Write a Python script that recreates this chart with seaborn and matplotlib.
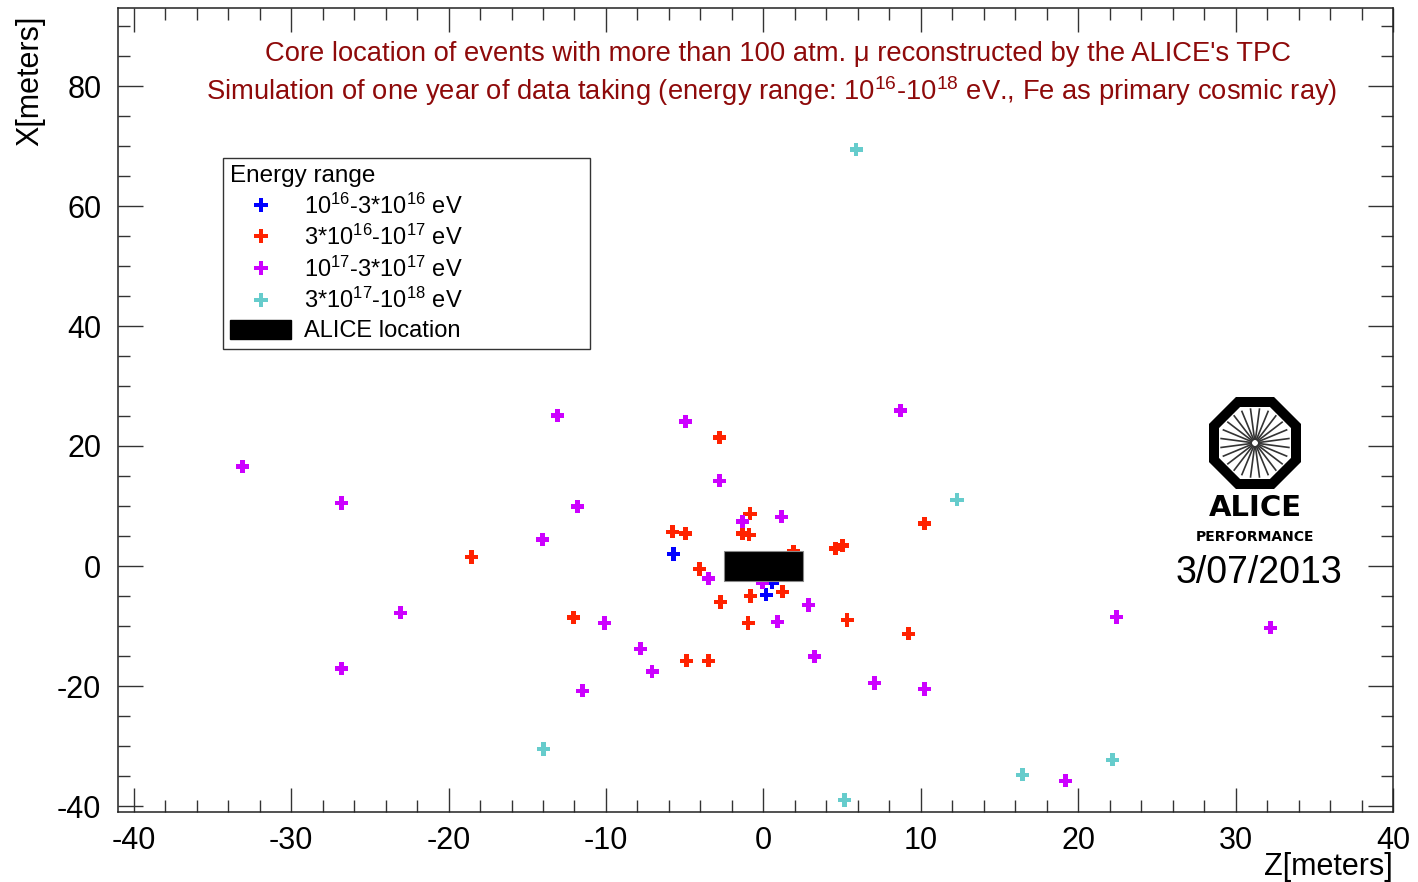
"""Core location of events seen by the ALICE TPC (ROOT-style scatter)."""

import matplotlib.pyplot as plt
import numpy as np
import pandas as pd
import seaborn as sns
from matplotlib.patches import Patch, Rectangle, RegularPolygon
from matplotlib.ticker import MultipleLocator

ENERGY_LABELS = [
    "10$^{16}$-3*10$^{16}$ eV",
    "3*10$^{16}$-10$^{17}$ eV",
    "10$^{17}$-3*10$^{17}$ eV",
    "3*10$^{17}$-10$^{18}$ eV",
]
ENERGY_COLORS = ["#0000ff", "#ff2200", "#cc00ff", "#66cccc"]

# Z (horizontal) and X (vertical) core positions in meters, per energy bin
Z_BIN1 = [-5.7, 0.56, 0.18]
X_BIN1 = [2.0, -2.8, -4.8]

Z_BIN2 = [-18.55, -12.06, -5.78, -4.95, -4.89, -3.49, -4.06, -2.79, -2.73, -1.33, -0.90,
          -0.85, -0.83, -0.96, 1.21, 1.91, 4.58, 5.02, 5.33, 9.21, 10.23]
X_BIN2 = [1.5, -8.6, 5.7, 5.4, -15.8, -15.8, -0.5, 21.4, -6.0, 5.4, 5.2,
          8.7, -5.0, -9.5, -4.3, 2.4, 2.9, 3.4, -9.0, -11.3, 7.1]

Z_BIN3 = [-33.1, -26.8, -26.8, -23.06, -13.08, -14.03, -11.81, -10.1, -11.5, -7.8, -7.06,
          -4.95, -2.79, -3.49, -1.33, 1.15, -0.06, 0.89, 2.86, 3.24, 7.06, 8.71, 10.23,
          22.43, 32.22, 19.19]
X_BIN3 = [16.6, 10.5, -17.1, -7.8, 25.1, 4.4, 9.9, -9.5, -20.8, -13.8, -17.6,
          24.1, 14.2, -2.1, 7.4, 8.2, -2.8, -9.3, -6.5, -15.1, -19.5, 25.9, -20.5,
          -8.5, -10.3, -35.8]

Z_BIN4 = [5.9, 12.3, -13.97, 16.46, 22.18, 5.15]
X_BIN4 = [69.4, 11.05, -30.5, -34.8, -32.3, -39.0]

ALICE_Z = (-2.5, 2.5)
ALICE_X = (-2.5, 2.5)

TITLE_1 = "Core location of events with more than 100 atm. \u03bc reconstructed by the ALICE's TPC"
TITLE_2 = ("Simulation of one year of data taking (energy range: 10$^{16}$-10$^{18}$ eV., "
           "Fe as primary cosmic ray)")
TITLE_COLOR = "#8e0a0a"


def build_frame() -> pd.DataFrame:
    parts = []
    for label, zs, xs in zip(ENERGY_LABELS,
                             [Z_BIN1, Z_BIN2, Z_BIN3, Z_BIN4],
                             [X_BIN1, X_BIN2, X_BIN3, X_BIN4]):
        parts.append(pd.DataFrame({"z": zs, "x": xs, "energy": label}))
    return pd.concat(parts, ignore_index=True)


def draw_logo(fig) -> None:
    W, H = 1418, 882
    cx, cy, half = 1255, 443, 60
    lax = fig.add_axes([(cx - half) / W, 1 - (cy + half) / H, 2 * half / W, 2 * half / H])
    lax.set_xlim(-half, half)
    lax.set_ylim(-half, half)
    lax.set_aspect("equal")
    lax.axis("off")
    oct_r = 41 / np.cos(np.pi / 8)
    lax.add_patch(RegularPolygon((0, 0), numVertices=8, radius=oct_r, orientation=np.pi / 8,
                                 fill=False, edgecolor="black", lw=7.2, joinstyle="miter"))
    for ang in np.arange(0, 360, 15) + 7.5:
        a = np.deg2rad(ang)
        lax.plot([3 * np.cos(a), 35 * np.cos(a)], [3 * np.sin(a), 35 * np.sin(a)],
                 color="#333333", lw=1.2, solid_capstyle="butt")


def main() -> None:
    sns.set_theme(style="white")
    plt.rcParams["font.family"] = ["Liberation Sans", "DejaVu Sans"]
    plt.rcParams["mathtext.fontset"] = "custom"
    plt.rcParams["mathtext.rm"] = "Liberation Sans"
    plt.rcParams["mathtext.it"] = "Liberation Sans:italic"
    plt.rcParams["axes.unicode_minus"] = False
    plt.rcParams["text.color"] = "black"
    plt.rcParams["axes.labelcolor"] = "black"
    plt.rcParams["xtick.labelcolor"] = "black"
    plt.rcParams["ytick.labelcolor"] = "black"

    df = build_frame()
    W, H = 1418, 882
    fig = plt.figure(figsize=(W / 100, H / 100), dpi=100)
    ax = fig.add_axes([118 / W, 1 - 812 / H, (1393 - 118) / W, (812 - 8) / H])

    sns.scatterplot(data=df, x="z", y="x", hue="energy", hue_order=ENERGY_LABELS,
                    palette=ENERGY_COLORS, marker="P", s=90, linewidth=0, ax=ax, zorder=3)
    handles, labels = ax.get_legend_handles_labels()
    ax.get_legend().remove()

    ax.add_patch(Rectangle((ALICE_Z[0], ALICE_X[0]), ALICE_Z[1] - ALICE_Z[0],
                           ALICE_X[1] - ALICE_X[0], facecolor="black",
                           edgecolor="#888888", lw=0.8, zorder=4))

    ax.set_xlim(-41, 40)
    ax.set_ylim(-41, 93)
    ax.xaxis.set_major_locator(MultipleLocator(10))
    ax.xaxis.set_minor_locator(MultipleLocator(2))
    ax.yaxis.set_major_locator(MultipleLocator(20))
    ax.yaxis.set_minor_locator(MultipleLocator(5))
    ax.tick_params(which="both", direction="in", top=True, right=True, bottom=True,
                   left=True, color="#333333", width=1.0)
    ax.tick_params(axis="x", which="major", length=17, pad=10, labelsize=22)
    ax.tick_params(axis="y", which="major", length=18, pad=12, labelsize=22)
    ax.tick_params(which="minor", length=8.6)
    for sp in ax.spines.values():
        sp.set_color("#222222")
        sp.set_linewidth(1.1)

    ax.set_xlabel("Z[meters]", fontsize=22, loc="right")
    ax.set_ylabel("X[meters]", fontsize=22, loc="top")
    ax.xaxis.set_label_coords(1.0, -0.05)
    ax.yaxis.set_label_coords(-0.057, 0.991)

    fig.text(778 / W, 1 - 54 / H, TITLE_1, ha="center", va="center",
             fontsize=19.7, color=TITLE_COLOR)
    fig.text(772 / W, 1 - 91 / H, TITLE_2, ha="center", va="center",
             fontsize=19.7, color=TITLE_COLOR)

    handles = list(handles) + [Patch(facecolor="black", edgecolor="black")]
    labels = list(labels) + ["ALICE location"]
    for h in handles[:-1]:
        h.set_markersize(10.5)
    leg = ax.legend(handles, labels, title="Energy range", title_fontsize=17.5, fontsize=17,
                    loc="upper left", mode="expand",
                    bbox_to_anchor=(223 / W, 1 - 346 / H, 367 / W, 188 / H),
                    bbox_transform=fig.transFigure, borderaxespad=0,
                    frameon=True, fancybox=False, edgecolor="black",
                    handlelength=2.6, handleheight=0.85, handletextpad=0.55,
                    labelspacing=0.27, borderpad=0.3, alignment="left")
    leg.get_frame().set_linewidth(1.0)
    leg.set_zorder(5)

    draw_logo(fig)
    fig.text(1255 / W, 1 - 508 / H, "ALICE", ha="center", va="center", fontsize=21,
             fontweight="bold", family="DejaVu Sans")
    fig.text(1255 / W, 1 - 537 / H, "PERFORMANCE", ha="center", va="center", fontsize=10,
             fontweight="bold", family="DejaVu Sans")
    fig.text(1259 / W, 1 - 573 / H, "3/07/2013", ha="center", va="center", fontsize=27)

    fig.savefig("out.png", dpi=100)
    plt.close(fig)


if __name__ == "__main__":
    main()
